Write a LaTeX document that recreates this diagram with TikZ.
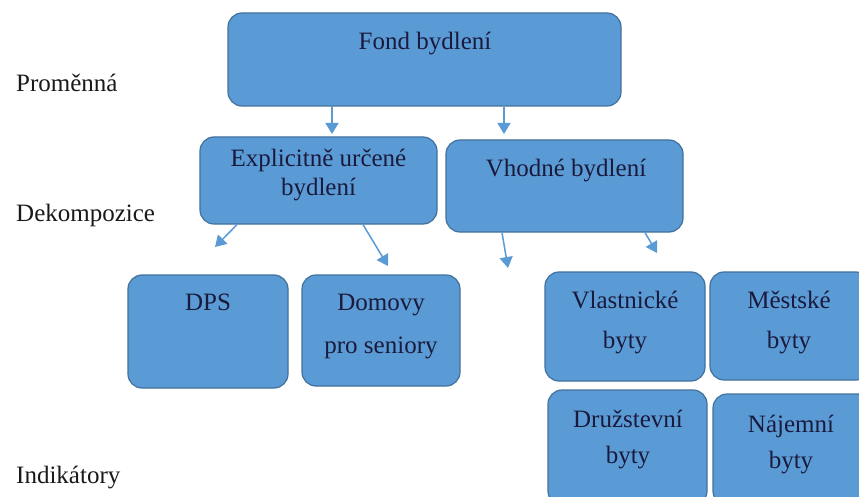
\documentclass[tikz,border=0pt]{standalone}
\usepackage{fontspec}
\setmainfont{Liberation Serif}
\usetikzlibrary{arrows.meta}
\definecolor{boxfill}{HTML}{5B9BD5}
\definecolor{boxline}{HTML}{41719C}
\definecolor{txt}{HTML}{1A1A3C}
\definecolor{arr}{HTML}{5B9BD5}
\begin{document}
\begin{tikzpicture}[x=1pt,y=-1pt,
  box/.style={draw=boxline,line width=1.2pt,fill=boxfill,rounded corners=14pt,inner sep=0pt},
  lbl/.style={inner sep=0pt,anchor=base,text=txt,font=\fontsize{25}{29}\selectfont},
  side/.style={inner sep=0pt,anchor=base west,text=black!90,font=\fontsize{25}{29}\selectfont},
  conn/.style={draw=arr,line width=1.5pt,-{Triangle[length=11pt,width=13pt]}}]
\clip (0,0) rectangle (859,497);
\fill[white] (0,0) rectangle (859,497);
% boxes
\node[box,minimum width=393pt,minimum height=93pt] (fond) at (424.5,59.5) {};
\node[box,minimum width=237pt,minimum height=87pt] (expl) at (318.5,180.5) {};
\node[box,minimum width=237pt,minimum height=92pt] (vhod) at (564.5,186) {};
\node[box,minimum width=160pt,minimum height=113pt] (dps) at (208,331.5) {};
\node[box,minimum width=158pt,minimum height=111pt] (domo) at (381,330.5) {};
\node[box,minimum width=160pt,minimum height=109pt] (vlas) at (625,326.5) {};
\node[box,minimum width=160pt,minimum height=108pt] (mest) at (790,326) {};
\node[box,minimum width=159pt,minimum height=115pt] (druz) at (627.5,447.5) {};
\node[box,minimum width=160pt,minimum height=111pt] (naje) at (793,449.5) {};
% texts
\node[lbl] (tfond) at (425,50) {Fond bydlení};
\node[lbl] (texpl1) at (318.5,167) {Explicitně určené};
\node[lbl] (texpl2) at (318.5,196) {bydlení};
\node[lbl] (tvhod) at (566,177) {Vhodné bydlení};
\node[lbl] (tdps) at (208,310) {DPS};
\node[lbl] (tdomo1) at (381,310) {Domovy};
\node[lbl] (tdomo2) at (381,353) {pro seniory};
\node[lbl] (tvlas1) at (625,308) {Vlastnické};
\node[lbl] (tvlas2) at (625,348) {byty};
\node[lbl] (tmest1) at (789,308) {Městské};
\node[lbl] (tmest2) at (789,348) {byty};
\node[lbl] (tdruz1) at (628,427) {Družstevní};
\node[lbl] (tdruz2) at (628,463) {byty};
\node[lbl] (tnaje1) at (791,432) {Nájemní};
\node[lbl] (tnaje2) at (791,468) {byty};
% side labels
\node[side] (sprom) at (16,92) {Proměnná};
\node[side] (sdeko) at (16,222) {Dekompozice};
\node[side] (sindi) at (16,483) {Indikátory};
% arrow ends
\coordinate (e1) at (332,134);
\coordinate (e2) at (504,134);
\coordinate (e3) at (215,247);
\coordinate (e4) at (388,266);
\coordinate (e5) at (508,268);
\coordinate (e6) at (657,253);
\draw[conn] ([xshift=-92.5pt]fond.south) -- (e1);
\draw[conn] ([xshift=79.5pt]fond.south) -- (e2);
\draw[conn] ([xshift=-81.5pt]expl.south) -- (e3);
\draw[conn] ([xshift=44.5pt]expl.south) -- (e4);
\draw[conn] ([xshift=-62.5pt]vhod.south) -- (e5);
\draw[conn] ([xshift=80.5pt]vhod.south) -- (e6);
\end{tikzpicture}
\end{document}
